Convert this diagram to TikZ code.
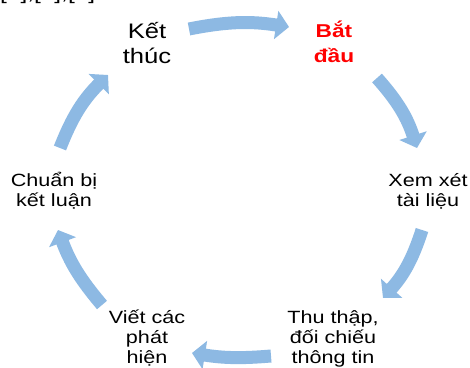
\documentclass[tikz,border=0pt]{standalone}
\usepackage{fontspec}
\setmainfont{Liberation Sans}[FakeStretch=1.22]
\usetikzlibrary{arrows.meta}
\definecolor{cyc}{HTML}{8DB9E3}
\definecolor{startred}{HTML}{FF0000}
\tikzset{
  cycarrow/.style={draw=cyc, line width=13pt, line cap=butt,
    -{Triangle[width=28pt,length=13pt]}},
  lbl/.style={inner sep=0pt, anchor=base, align=center,
    font=\fontsize{17.7}{20}\selectfont},
  biglbl/.style={inner sep=0pt, anchor=base, align=center,
    font=\fontsize{21}{25}\selectfont},
  redlbl/.style={inner sep=0pt, anchor=base, align=center, text=startred,
    font=\fontsize{18.6}{25}\selectfont\bfseries}
}
\begin{document}
\begin{tikzpicture}[x=1pt,y=1pt]
\useasboundingbox (0,0) rectangle (470,367);
\clip (0,0) rectangle (470,367);
\fill[white] (0,0) rectangle (470,367);
% clipped top-left reference text
\node[inner sep=0pt, anchor=base west, font=\fontsize{20}{24}\selectfont] (refs) at (0,367.5) {[2],[2],[2]};
% labels (anchor = baseline of last line)
\node[biglbl] (end) at (147,303) {Kết\\thúc};
\node[redlbl] (start) at (334,304) {Bắt\\đầu};
\node[lbl] (review) at (428,161) {Xem xét\\tài liệu};
\node[lbl] (collect) at (333,4) {Thu thập,\\đối chiếu\\thông tin};
\node[lbl] (write) at (147,4) {Viết các\\phát\\hiện};
\node[lbl] (prep) at (54,161) {Chuẩn bị\\kết luận};
% arrow ends
\coordinate (a1s) at (189,338); \coordinate (a1e) at (289,340);
\coordinate (a2s) at (377,289); \coordinate (a2e) at (417,219);
\coordinate (a3s) at (422,137); \coordinate (a3e) at (383,69);
\coordinate (a4s) at (271,11);  \coordinate (a4e) at (192,14);
\coordinate (a5s) at (102,62);  \coordinate (a5e) at (58,137);
\coordinate (a6s) at (60,219);  \coordinate (a6e) at (108,292);
\draw[cycarrow] (a1s) to[bend left=10] (a1e);
\draw[cycarrow] (a2s) to[bend left=12] (a2e);
\draw[cycarrow] (a3s) to[bend left=12] (a3e);
\draw[cycarrow] (a4s) to[bend left=7] (a4e);
\draw[cycarrow] (a5s) to[bend left=10] (a5e);
\draw[cycarrow] (a6s) to[bend left=12] (a6e);
\end{tikzpicture}
\end{document}
